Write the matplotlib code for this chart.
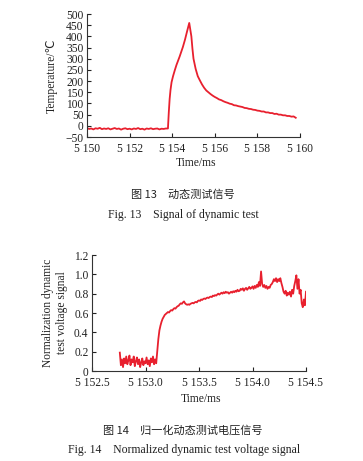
import matplotlib.pyplot as plt

# --------------------------------------------------------------
# Data
# --------------------------------------------------------------

# Fig. 13 - temperature of dynamic test
t1 = [5150.0, 5150.1, 5150.2, 5150.3, 5150.4, 5150.5, 5150.6, 5150.7, 5150.8, 5150.9,
      5151.0, 5151.1, 5151.2, 5151.3, 5151.4, 5151.5, 5151.6, 5151.7, 5151.8, 5151.9,
      5152.0, 5152.1, 5152.2, 5152.3, 5152.4, 5152.5, 5152.6, 5152.7, 5152.8, 5152.9,
      5153.0, 5153.1, 5153.2, 5153.3, 5153.4, 5153.5, 5153.6, 5153.7,
      5153.80, 5153.84, 5153.88, 5153.92, 5153.97, 5154.04, 5154.12, 5154.2, 5154.35,
      5154.5, 5154.6, 5154.7, 5154.8,
      5154.85, 5154.9, 5154.95, 5155.0, 5155.1, 5155.2, 5155.3, 5155.4, 5155.5,
      5155.6, 5155.7, 5155.8, 5155.9, 5156.0,
      5156.1, 5156.2, 5156.3, 5156.4, 5156.5, 5156.6, 5156.7, 5156.8, 5156.9, 5157.0,
      5157.1, 5157.2, 5157.3, 5157.4, 5157.5, 5157.6, 5157.7, 5157.8, 5157.9, 5158.0,
      5158.1, 5158.2, 5158.3, 5158.4, 5158.5, 5158.6, 5158.7, 5158.8, 5158.9, 5159.0,
      5159.1, 5159.2, 5159.3, 5159.4, 5159.5, 5159.6, 5159.7, 5159.8]
temp1 = [-10, -14, -12, -16, -11, -13, -9, -15, -12, -14,
         -11, -16, -13, -10, -14, -12, -17, -13, -11, -15,
         -13, -16, -12, -14, -10, -15, -13, -17, -12, -14,
         -11, -15, -13, -12, -16, -13, -14, -12,
         -12, 60, 120, 160, 195, 222, 248, 272, 310,
         352, 385, 423, 460,
         430, 400, 345, 300, 255, 222, 203, 185, 170,
         158, 150, 142, 135, 129,
         124, 118, 115, 110, 106, 103, 99, 97, 92, 91,
         88, 86, 84, 80, 79, 76, 75, 72, 71, 68,
         67, 64, 64, 60, 60, 57, 57, 53, 54, 50,
         50, 47, 47, 44, 44, 41, 42, 36]

xticks1 = [5150, 5152, 5154, 5156, 5158, 5160]
xticklabels1 = ["5 150", "5 152", "5 154", "5 156", "5 158", "5 160"]
yticks1 = [-50, 0, 50, 100, 150, 200, 250, 300, 350, 400, 450, 500]

# Fig. 14 - normalized voltage signal (0.01 ms samples)
t2 = [5152.76, 5152.77, 5152.78, 5152.79,
      5152.80, 5152.81, 5152.82, 5152.83, 5152.84, 5152.85, 5152.86, 5152.87, 5152.88, 5152.89,
      5152.90, 5152.91, 5152.92, 5152.93, 5152.94, 5152.95, 5152.96, 5152.97, 5152.98, 5152.99,
      5153.00, 5153.01, 5153.02, 5153.03, 5153.04, 5153.05, 5153.06, 5153.07, 5153.08, 5153.09,
      5153.10, 5153.11, 5153.12, 5153.13, 5153.14, 5153.15, 5153.16, 5153.17, 5153.18, 5153.19,
      5153.20, 5153.21, 5153.22, 5153.23, 5153.24, 5153.25, 5153.26, 5153.27, 5153.28, 5153.29,
      5153.30, 5153.31, 5153.32, 5153.33, 5153.34, 5153.35, 5153.36, 5153.37, 5153.38, 5153.39,
      5153.40, 5153.41, 5153.42, 5153.43, 5153.44, 5153.45, 5153.46, 5153.47, 5153.48, 5153.49,
      5153.50, 5153.51, 5153.52, 5153.53, 5153.54, 5153.55, 5153.56, 5153.57, 5153.58, 5153.59,
      5153.60, 5153.61, 5153.62, 5153.63, 5153.64, 5153.65, 5153.66, 5153.67, 5153.68, 5153.69,
      5153.70, 5153.71, 5153.72, 5153.73, 5153.74, 5153.75, 5153.76, 5153.77, 5153.78, 5153.79,
      5153.80, 5153.81, 5153.82, 5153.83, 5153.84, 5153.85, 5153.86, 5153.87, 5153.88, 5153.89,
      5153.90, 5153.91, 5153.92, 5153.93, 5153.94, 5153.95, 5153.96, 5153.97, 5153.98, 5153.99,
      5154.00, 5154.01, 5154.02, 5154.03, 5154.04, 5154.05, 5154.06, 5154.07, 5154.08, 5154.09,
      5154.10, 5154.11, 5154.12, 5154.13, 5154.14, 5154.15, 5154.16, 5154.17, 5154.18, 5154.19,
      5154.20, 5154.21, 5154.22, 5154.23, 5154.24, 5154.25, 5154.26, 5154.27, 5154.28, 5154.29,
      5154.30, 5154.31, 5154.32, 5154.33, 5154.34, 5154.35, 5154.36, 5154.37, 5154.38, 5154.39,
      5154.40, 5154.41, 5154.42, 5154.43, 5154.44, 5154.45, 5154.46, 5154.47, 5154.48, 5154.49,
      5154.50]
volt2 = [0.19, 0.06, 0.12, 0.04,
         0.13, 0.08, 0.15, 0.07, 0.11, 0.16, 0.06, 0.12, 0.09, 0.15,
         0.05, 0.10, 0.14, 0.07, 0.12, 0.04, 0.09, 0.13, 0.06, 0.10,
         0.08, 0.14, 0.07, 0.11, 0.05, 0.13, 0.09, 0.15, 0.07, 0.12,
         0.08, 0.20, 0.33, 0.42, 0.47, 0.51, 0.54, 0.56, 0.58, 0.59,
         0.60, 0.61, 0.605, 0.62, 0.63, 0.625, 0.64, 0.65, 0.645, 0.66,
         0.67, 0.675, 0.69, 0.70, 0.695, 0.71, 0.72, 0.70, 0.69, 0.685,
         0.69, 0.685, 0.695, 0.70, 0.705, 0.70, 0.71, 0.715, 0.71, 0.725,
         0.73, 0.725, 0.74, 0.735, 0.745, 0.75, 0.745, 0.755, 0.76, 0.755,
         0.765, 0.77, 0.765, 0.78, 0.775, 0.785, 0.78, 0.79, 0.80, 0.79,
         0.80, 0.81, 0.80, 0.815, 0.805, 0.82, 0.81, 0.815, 0.80, 0.81,
         0.82, 0.81, 0.825, 0.815, 0.83, 0.82, 0.84, 0.825, 0.83, 0.85,
         0.84, 0.855, 0.83, 0.85, 0.86, 0.84, 0.855, 0.87, 0.85, 0.86,
         0.875, 0.85, 0.88, 0.86, 0.89, 0.87, 0.92, 0.88, 1.03, 0.90,
         0.87, 0.89, 0.86, 0.88, 0.85, 0.87, 0.86, 0.89, 0.90, 0.92,
         0.95, 0.93, 0.96, 0.92, 0.95, 0.93, 0.96, 0.91, 0.87, 0.82,
         0.80, 0.83, 0.78, 0.81, 0.79, 0.82, 0.77, 0.84, 0.80, 0.88,
         0.93, 0.99, 0.85, 0.95, 0.80, 0.84, 0.70, 0.66, 0.74, 0.68,
         0.82]

xticks2 = [5152.5, 5153.0, 5153.5, 5154.0, 5154.5]
xticklabels2 = ["5 152.5", "5 153.0", "5 153.5", "5 154.0", "5 154.5"]
yticks2 = [0, 0.2, 0.4, 0.6, 0.8, 1.0, 1.2]
yticklabels2 = ["0", "0.2", "0.4", "0.6", "0.8", "1.0", "1.2"]

# --------------------------------------------------------------
# Style
# --------------------------------------------------------------
serif = ["Liberation Serif", "DejaVu Sans"]
cjk = ["Noto Sans CJK SC", "DejaVu Sans"]
plt.rcParams["font.family"] = serif
plt.rcParams["font.size"] = 8.3
plt.rcParams["text.color"] = "#222222"
plt.rcParams["axes.labelcolor"] = "#222222"
plt.rcParams["xtick.color"] = "#222222"
plt.rcParams["ytick.color"] = "#222222"
red = "#e8202e"
fs = 8.3


def style_axes(ax):
    for side in ["top", "right"]:
        ax.spines[side].set_visible(False)
    for side in ["left", "bottom"]:
        ax.spines[side].set_linewidth(0.8)
        ax.spines[side].set_color("#333333")
    ax.tick_params(direction="in", length=3, width=0.8, labelsize=fs)
    ax.tick_params(axis="x", pad=4.5)
    ax.tick_params(axis="y", pad=2.5)


fig = plt.figure(figsize=(3.63, 4.61), dpi=100)

# --------------------------------------------------------------
# Fig. 13
# --------------------------------------------------------------
ax1 = fig.add_axes([87 / 363, 1 - 137 / 461, 213 / 363, 123 / 461])
ax1.plot(t1, temp1, color=red, lw=1.3)
ax1.set_xlim(5150, 5160)
ax1.set_ylim(-50, 500)
ax1.set_xticks(xticks1)
ax1.set_xticklabels(xticklabels1)
ax1.set_yticks(yticks1)
ax1.set_yticklabels(["\u221250" if v < 0 else str(v) for v in yticks1])
ax1.set_xlabel("Time/ms", fontsize=fs)
ax1.set_ylabel("Temperature/\u2103", fontsize=fs)
ax1.xaxis.set_label_coords(0.51, -0.165)
ax1.yaxis.set_label_coords(-0.135, 0.5)
style_axes(ax1)

fig.text(183 / 363, 1 - 195 / 461, "图 13\u2003动态测试信号", family=cjk,
         fontsize=8, ha="center", va="center")
fig.text(183 / 363, 1 - 215 / 461, "Fig. 13\u2003Signal of dynamic test",
         fontsize=8.5, ha="center", va="center")

# --------------------------------------------------------------
# Fig. 14
# --------------------------------------------------------------
ax2 = fig.add_axes([92 / 363, 1 - 371 / 461, 214 / 363, 116 / 461])
ax2.plot(t2, volt2, color=red, lw=1.3)
ax2.set_xlim(5152.5, 5154.5)
ax2.set_ylim(0, 1.2)
ax2.set_xticks(xticks2)
ax2.set_xticklabels(xticklabels2)
ax2.set_yticks(yticks2)
ax2.set_yticklabels(yticklabels2)
ax2.set_xlabel("Time/ms", fontsize=fs)
ax2.set_ylabel("Normalization dynamic\ntest voltage signal", fontsize=fs, linespacing=1.25)
ax2.xaxis.set_label_coords(0.51, -0.19)
ax2.yaxis.set_label_coords(-0.11, 0.5)
style_axes(ax2)

fig.text(183 / 363, 1 - 430 / 461, "图 14\u2003归一化动态测试电压信号", family=cjk,
         fontsize=8, ha="center", va="center")
fig.text(184 / 363, 1 - 450 / 461, "Fig. 14\u2003Normalized dynamic test voltage signal",
         fontsize=8.5, ha="center", va="center")

fig.savefig("out.png", dpi=100)
